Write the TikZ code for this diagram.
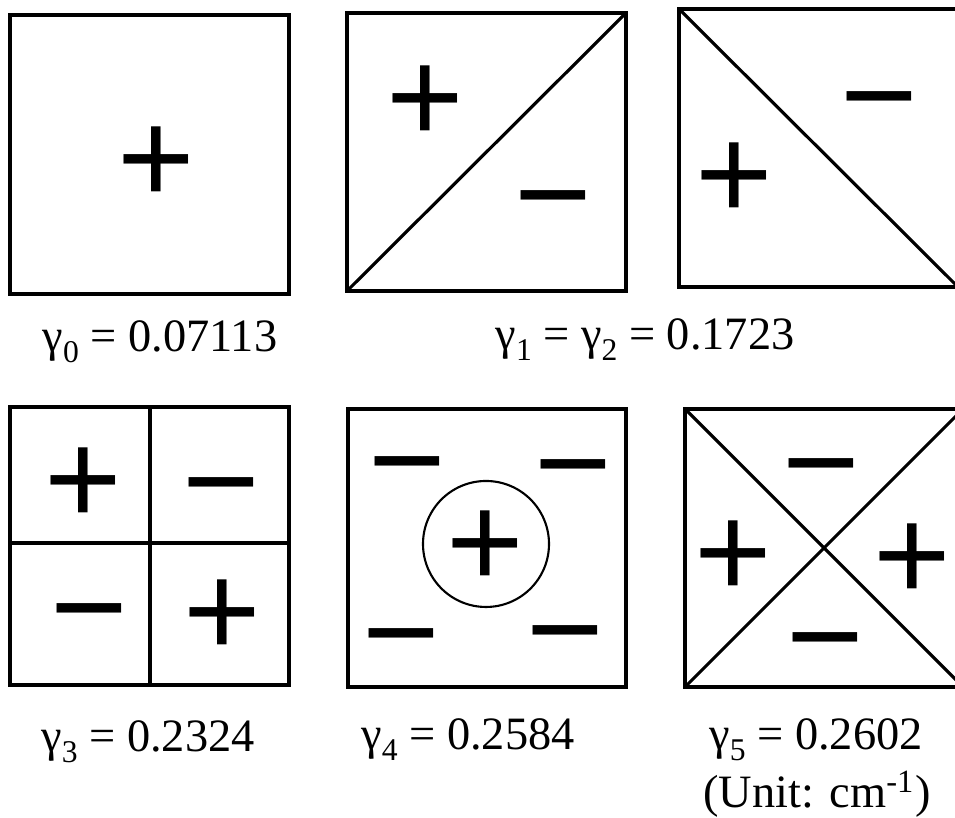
\documentclass[tikz,border=0pt]{standalone}
\usepackage{fontspec}
\setmainfont{Liberation Serif}
\newfontfamily\signfont{Liberation Sans}
\newcommand\lowidx[1]{\raisebox{-0.22em}{\fontsize{9}{9}\selectfont #1}}

\tikzset{
  cell/.style={line width=1.1pt},
  cut/.style={line width=0.9pt},
  sign/.style={font=\signfont\fontsize{37.8}{40}\selectfont, inner sep=0pt, text height=25.6pt, text depth=0pt},
  gam/.style={font=\fontsize{13.2}{15}\selectfont, anchor=base, inner sep=0pt}
}

\begin{document}
\begin{tikzpicture}
  \useasboundingbox (0,0) rectangle (9.55,8.18);
  % row 1
  \draw[cell] (0.10,5.24) rectangle (2.89,8.03);
  \node[sign] (p0) at (1.56,6.59) {+};

  \draw[cell] (3.47,5.27) rectangle (6.26,8.05);
  \draw[cut] (3.47,5.27) -- (6.26,8.05);
  \node[sign] (p1) at (4.25,7.20) {+};
  \node[sign] (m1) at (5.53,6.23) {−};

  \draw[cell] (6.79,5.31) rectangle (9.58,8.09);
  \draw[cut] (6.79,8.09) -- (9.58,5.31);
  \node[sign] (p2) at (7.34,6.43) {+};
  \node[sign] (m2) at (8.79,7.22) {−};

  \node[gam] (g0) at (1.60,4.66) {γ\lowidx{0} = 0.07113};
  \node[gam] (g12) at (6.45,4.68) {γ\lowidx{1} = γ\lowidx{2} = 0.1723};

  % row 2
  \draw[cell] (0.10,1.33) rectangle (2.89,4.11);
  \draw[cut] (1.50,1.33) -- (1.50,4.11);
  \draw[cut] (0.10,2.75) -- (2.89,2.75);
  \node[sign] (p3a) at (0.83,3.38) {+};
  \node[sign] (m3a) at (2.21,3.36) {−};
  \node[sign] (m3b) at (0.89,2.10) {−};
  \node[sign] (p3b) at (2.22,2.06) {+};

  \draw[cell] (3.48,1.31) rectangle (6.26,4.09);
  \node[draw, circle, line width=0.6pt, minimum size=1.26cm, inner sep=0pt] (ring) at (4.86,2.74) {};
  \node[sign] (p4) at (4.85,2.75) {+};
  \node[sign] (m4a) at (4.07,3.57) {−};
  \node[sign] (m4b) at (5.73,3.54) {−};
  \node[sign] (m4c) at (4.01,1.85) {−};
  \node[sign] (m4d) at (5.65,1.88) {−};

  \draw[cell] (6.85,1.31) rectangle (9.63,4.09);
  \draw[cut] (6.85,4.09) -- (9.63,1.31);
  \draw[cut] (6.85,1.31) -- (9.63,4.09);
  \node[sign] (p5a) at (7.33,2.65) {+};
  \node[sign] (p5b) at (9.12,2.62) {+};
  \node[sign] (m5a) at (8.21,3.55) {−};
  \node[sign] (m5b) at (8.25,1.81) {−};

  \node[gam] (g3) at (1.48,0.66) {γ\lowidx{3} = 0.2324};
  \node[gam] (g4) at (4.68,0.68) {γ\lowidx{4} = 0.2584};
  \node[gam] (g5) at (8.16,0.68) {γ\lowidx{5} = 0.2602};
  \node[gam] (unit) at (8.17,0.10) {(Unit: cm\textsuperscript{-1})};
\end{tikzpicture}
\end{document}
